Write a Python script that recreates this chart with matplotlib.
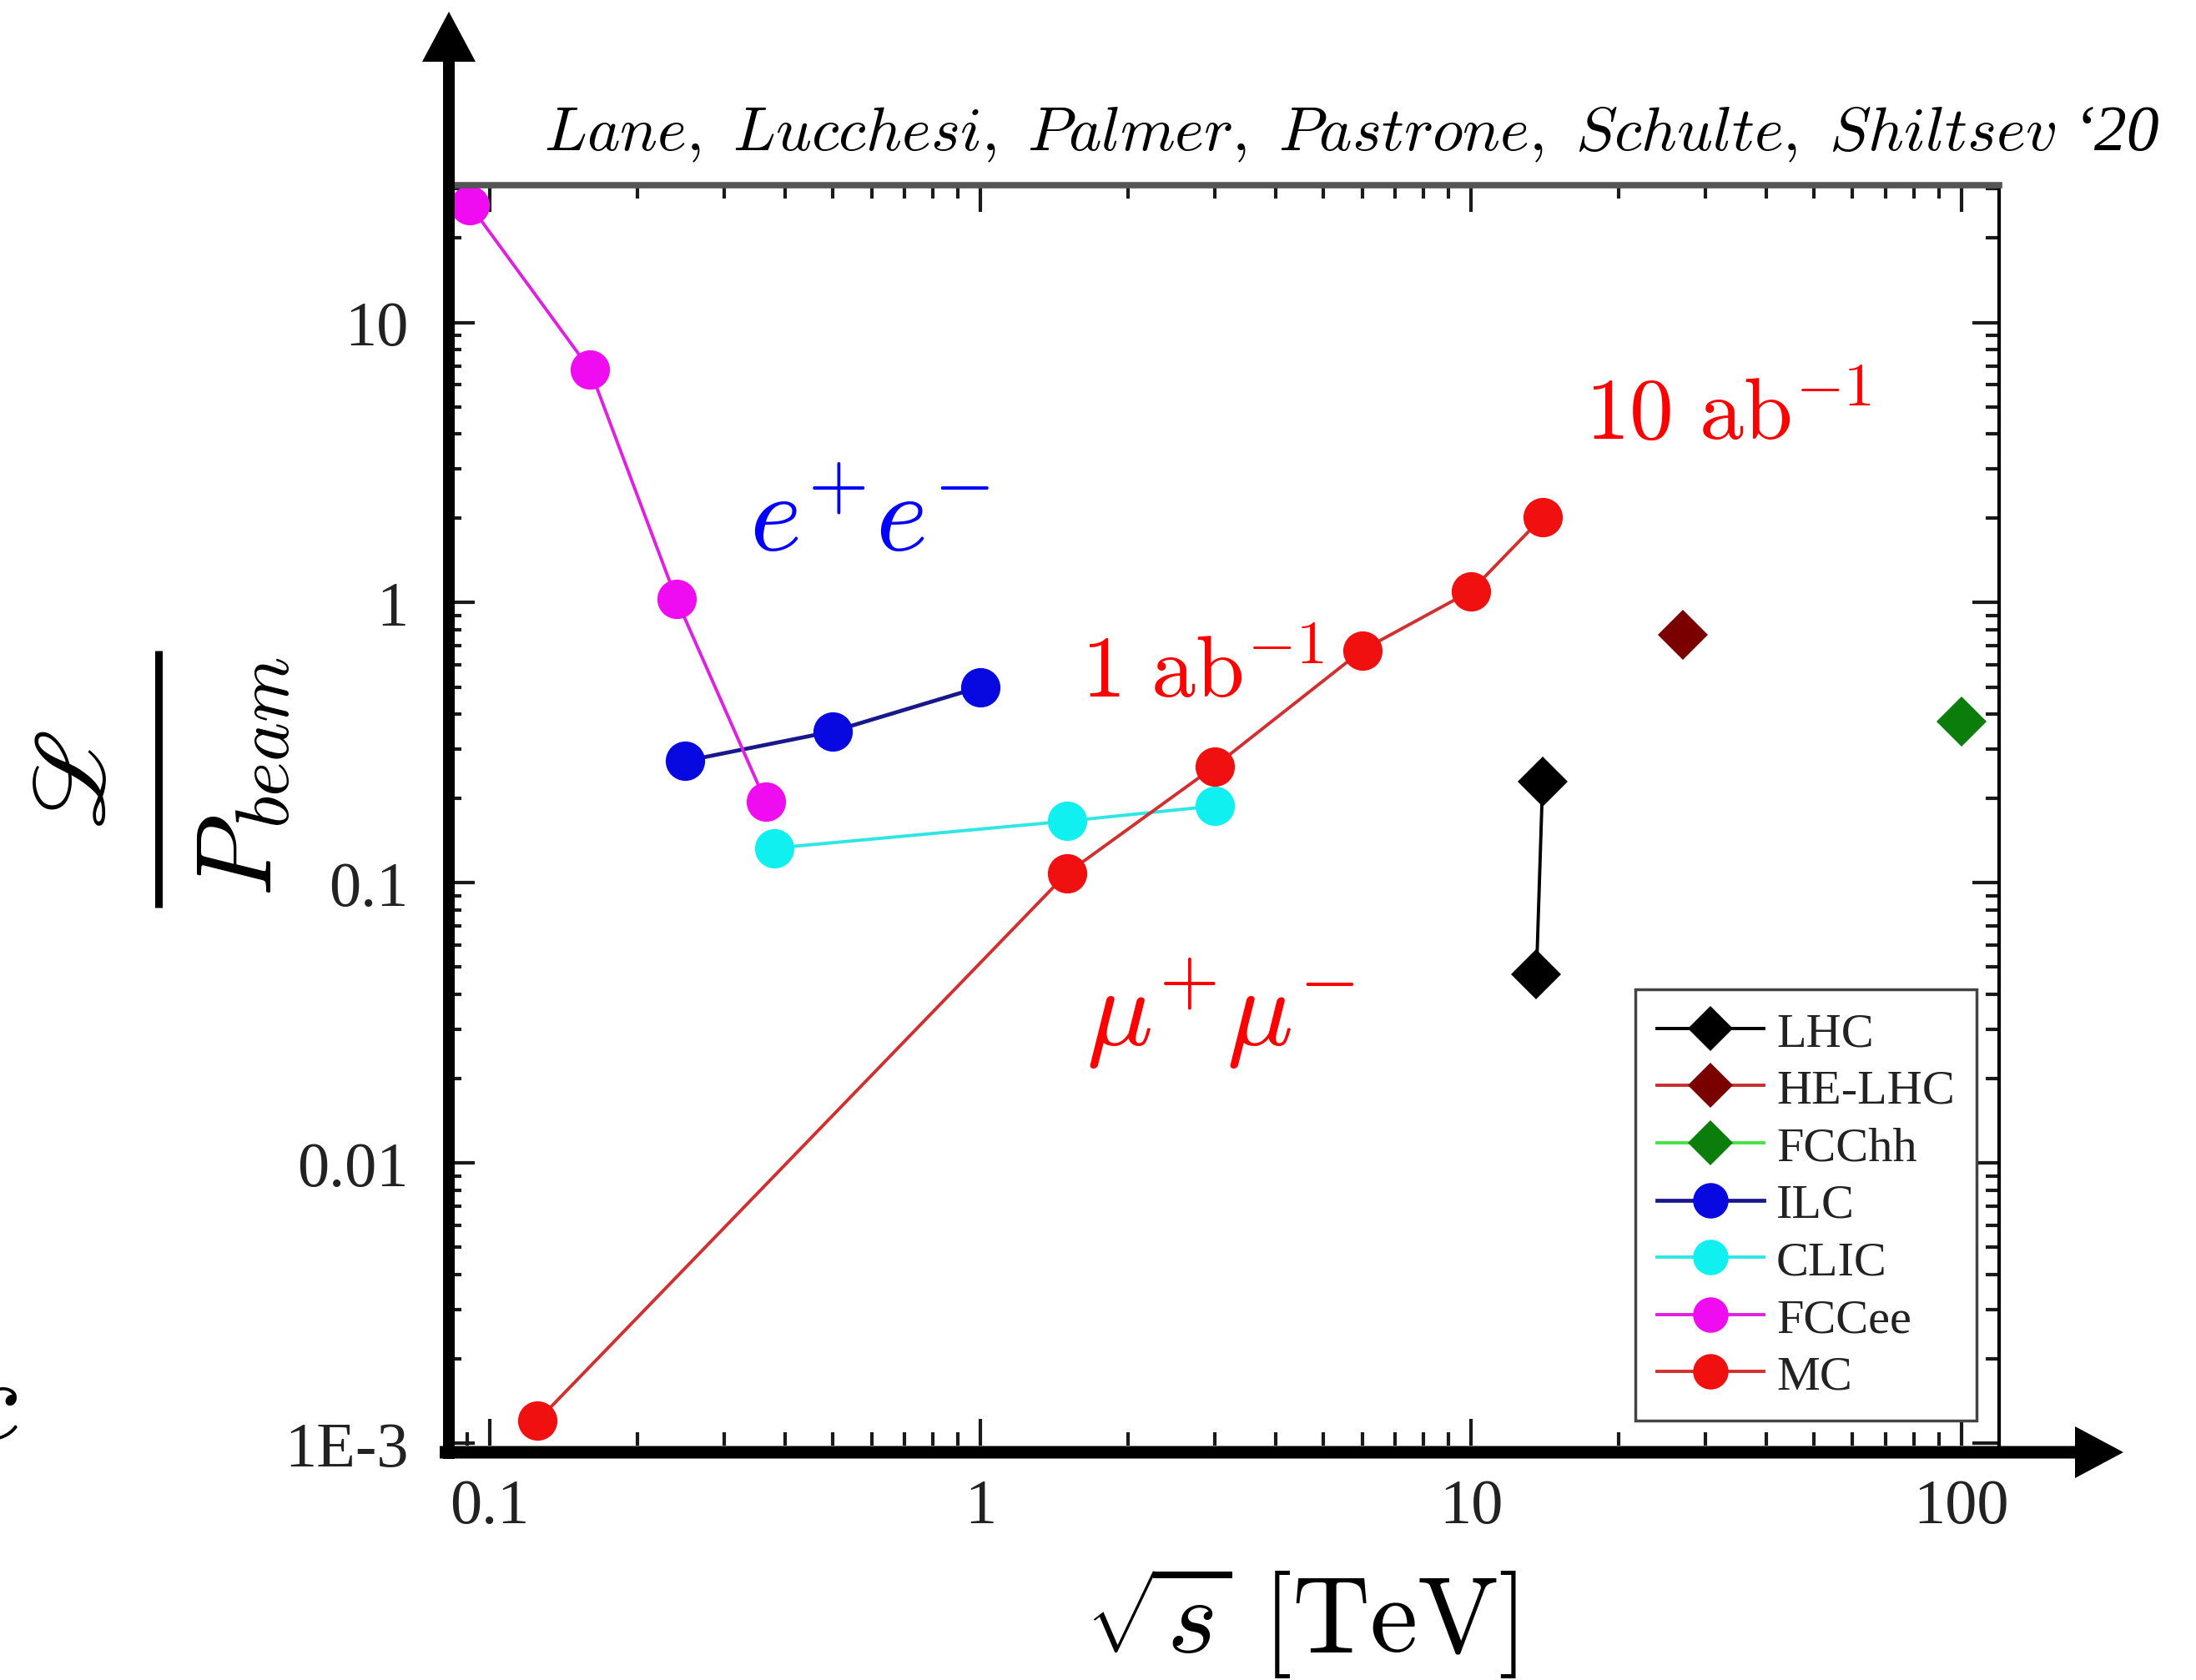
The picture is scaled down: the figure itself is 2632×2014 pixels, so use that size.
import numpy as np
import matplotlib
matplotlib.use("Agg")
import matplotlib.pyplot as plt
from matplotlib.patches import FancyArrow
from matplotlib.lines import Line2D
from matplotlib.transforms import Affine2D
from matplotlib.ticker import FixedLocator, FixedFormatter, LogLocator, NullFormatter

plt.rcParams["font.family"] = ["Liberation Serif", "DejaVu Serif"]
plt.rcParams["mathtext.fontset"] = "cm"

W, H, DPI = 2632, 2015, 100

# centre-of-mass energy sqrt(s) [TeV] and luminosity per beam power
lhc_x = [13.6, 14]
lhc_y = [0.047, 0.23]
helhc_x = [27]
helhc_y = [0.77]
fcchh_x = [100]
fcchh_y = [0.376]
ilc_x = [0.25, 0.5, 1.0]
ilc_y = [0.272, 0.347, 0.50]
clic_x = [0.38, 1.5, 3.0]
clic_y = [0.133, 0.166, 0.188]
fccee_x = [0.091, 0.16, 0.24, 0.365]
fccee_y = [26.3, 6.8, 1.03, 0.195]
mc_x = [0.125, 1.5, 3, 6, 10, 14]
mc_y = [0.0012, 0.108, 0.26, 0.676, 1.1, 2.02]

x_ticks = [0.1, 1, 10, 100]
x_ticklabels = ["0.1", "1", "10", "100"]
y_ticks = [1e-3, 0.01, 0.1, 1, 10]
y_ticklabels = ["1E-3", "0.01", "0.1", "1", "10"]

fig = plt.figure(figsize=(W / DPI, H / DPI), dpi=DPI, facecolor="white")
# transform working in output pixels (origin bottom-left)
px = Affine2D().scale(1.0 / DPI) + fig.dpi_scale_trans


def top(y):
    return H - y


ax = fig.add_axes([537 / W, 1 - 1734 / H, (2396 - 537) / W, (1734 - 223) / H])
ax.set_xscale("log")
ax.set_yscale("log")
ax.set_xlim(0.0822, 119.3)
ax.set_ylim(9.8e-4, 30.9)

# (label, x, y, marker, line colour, marker colour, marker size)
series = [
    ("LHC", lhc_x, lhc_y, "D", "black", "black", 31),
    ("HE-LHC", helhc_x, helhc_y, "D", "#c83030", "#7a0000", 31),
    ("FCChh", fcchh_x, fcchh_y, "D", "#48e048", "#0b7d0b", 31),
    ("ILC", ilc_x, ilc_y, "o", "#18188c", "#0808e0", 34),
    ("CLIC", clic_x, clic_y, "o", "#2ee6e6", "#10f0f0", 34),
    ("FCCee", fccee_x, fccee_y, "o", "#e020e0", "#f00cf0", 34),
    ("MC", mc_x, mc_y, "o", "#d03030", "#f01010", 34),
]
handles = []
for label, xs, ys, mk, lc, mc, ms in series:
    lw = 3.4 if label == "ILC" else 2.8
    (ln,) = ax.plot(xs, ys, color=lc, lw=lw, marker=mk, ms=ms,
                    mfc=mc, mec=mc, mew=0, label=label, clip_on=False)
    handles.append(ln)

# spines and ticks
ax.spines["left"].set_visible(False)
ax.spines["bottom"].set_visible(False)
ax.spines["top"].set_color("#555555")
ax.spines["top"].set_linewidth(5.5)
ax.spines["right"].set_color("black")
ax.spines["right"].set_linewidth(3)

ax.xaxis.set_major_locator(FixedLocator(x_ticks))
ax.xaxis.set_major_formatter(FixedFormatter(x_ticklabels))
ax.yaxis.set_major_locator(FixedLocator(y_ticks))
ax.yaxis.set_major_formatter(FixedFormatter(y_ticklabels))
ax.xaxis.set_minor_locator(LogLocator(10, subs=np.arange(2, 10), numticks=20))
ax.yaxis.set_minor_locator(LogLocator(10, subs=np.arange(2, 10), numticks=20))
ax.xaxis.set_minor_formatter(NullFormatter())
ax.yaxis.set_minor_formatter(NullFormatter())

ax.tick_params(which="both", direction="in", top=True, right=True,
               color="#1a1a1a", labelcolor="#222222")
ax.tick_params(which="major", length=23, width=3)
ax.tick_params(which="minor", length=11.5, width=3)
ax.tick_params(axis="x", which="major", pad=28, labelsize=55)
ax.tick_params(axis="y", which="major", pad=34, labelsize=55)

leg = ax.legend(handles=handles, loc="lower right",
                bbox_to_anchor=(0.9855, 0.0199), borderaxespad=0,
                fontsize=42, frameon=True, fancybox=False, framealpha=1,
                edgecolor="#444444", handlelength=2.2, handletextpad=0.25,
                labelspacing=0.27, borderpad=0.45, markerscale=0.9)
leg.get_frame().set_linewidth(2.5)
for t in leg.get_texts():
    t.set_color("#222222")

# thick axis arrows
arrow_kw = dict(color="black", length_includes_head=True, transform=px,
                zorder=10, lw=0)
fig.add_artist(FancyArrow(538, top(1750), 0, 1750 - 15, width=14,
                          head_width=64, head_length=60, **arrow_kw))
fig.add_artist(FancyArrow(527, top(1742), 2545 - 527, 0, width=15,
                          head_width=62, head_length=58, **arrow_kw))

# citation (names in math italic, the year in a text italic)
cite = fig.text(652, top(180),
                r"$\mathit{Lane,\ Lucchesi,\ Palmer,\ Pastrone,\ Schulte,\ Shiltsev}$",
                transform=px, fontsize=54, ha="left", va="baseline")
fig.canvas.draw()
cite_end = cite.get_window_extent().x1
fig.text(cite_end + 20, top(180), "\u201820", transform=px, fontsize=56,
         fontstyle="italic", family=["Liberation Serif"], ha="left",
         va="baseline")

# process labels
fig.text(898, top(661), r"$e^{+}e^{-}$", transform=px, fontsize=96,
         color="#0000ff", ha="left", va="baseline")
fig.text(1302, top(1254), r"$\mu^{+}\mu^{-}$", transform=px, fontsize=95,
         color="#ff0000", ha="left", va="baseline")
fig.text(1296, top(836), r"$\mathrm{1\ ab}^{-1}$", transform=px, fontsize=76,
         color="#ff0000", ha="left", va="baseline")
fig.text(1900, top(527), r"$\mathrm{10\ ab}^{-1}$", transform=px, fontsize=76,
         color="#ff0000", ha="left", va="baseline")

# y-axis quantity as a fraction
fig.text(96, top(935), r"$\mathscr{L}$", transform=px, fontsize=90,
         rotation=90, ha="center", va="center", math_fontfamily="stix")
fig.add_artist(Line2D([190, 190], [top(781), top(1089)], transform=px,
                      color="black", lw=6.5, solid_capstyle="butt"))
fig.text(296, top(931), r"$P_{beam}$", transform=px, fontsize=92,
         rotation=90, ha="center", va="center")

# x-axis quantity
fig.text(1560, top(1981), r"$\sqrt{s}\ [\mathrm{TeV}]$", transform=px,
         fontsize=93, ha="center", va="baseline")

# clipped letter at the left edge
fig.text(22, top(1725), r"$c$", transform=px, fontsize=100,
         ha="right", va="baseline")

fig.savefig("out.png", dpi=DPI, facecolor="white")
